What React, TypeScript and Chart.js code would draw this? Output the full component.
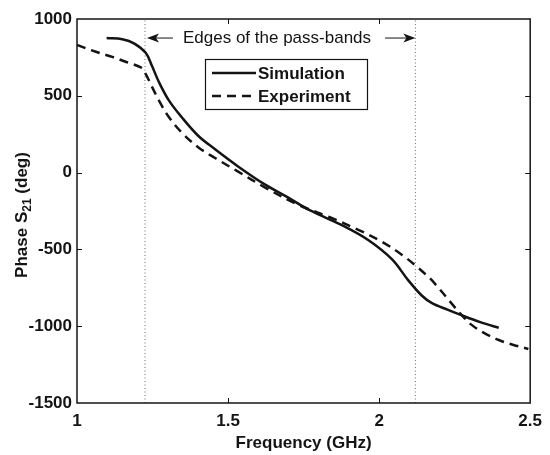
import React, { useEffect, useRef } from "react";
import { Chart, registerables } from "chart.js";

Chart.register(...registerables);

// ---- data ----
const simFreq = [1.098, 1.15, 1.19, 1.228, 1.248, 1.271, 1.304, 1.346, 1.401, 1.457, 1.532, 1.62, 1.695, 1.77, 1.88, 1.965, 2.043, 2.096, 2.141, 2.175, 2.226, 2.281, 2.337, 2.396];
const simPhase = [876, 868, 840, 778, 695, 590, 470, 362, 240, 152, 42, -75, -158, -245, -345, -440, -565, -700, -800, -850, -892, -935, -975, -1010];

const expFreq = [1.0, 1.065, 1.117, 1.163, 1.215, 1.228, 1.248, 1.271, 1.304, 1.346, 1.401, 1.457, 1.532, 1.62, 1.727, 1.835, 1.933, 2.011, 2.076, 2.118, 2.167, 2.19, 2.239, 2.272, 2.304, 2.347, 2.396, 2.445, 2.494];
const expPhase = [831, 785, 753, 720, 681, 640, 560, 470, 362, 262, 165, 95, 8, -94, -205, -289, -374, -452, -536, -601, -686, -735, -850, -925, -988, -1044, -1090, -1122, -1148];

const passBandEdges = [1.225, 2.12];
const xTicks = [1, 1.5, 2, 2.5];
const yTicks = [-1500, -1000, -500, 0, 500, 1000];
const annotationText = "Edges of the pass-bands";
const annotationAnchor = { x: 1.662, y: 876 };

const FONT = '"Liberation Sans", Arial, Helvetica, sans-serif';
const INK = "#141414";

const decorPlugin = {
  id: "decor",
  afterDraw(chart: any) {
    const { ctx, chartArea: a, scales } = chart;
    const xs = scales.x;
    const ys = scales.y;
    ctx.save();
    // box
    ctx.strokeStyle = INK;
    ctx.lineWidth = 1.5;
    ctx.strokeRect(a.left, a.top, a.right - a.left, a.bottom - a.top);
    // inward ticks
    ctx.lineWidth = 1;
    const tl = 5;
    xTicks.slice(1, -1).forEach((v) => {
      const p = Math.round(xs.getPixelForValue(v)) + 0.5;
      ctx.beginPath();
      ctx.moveTo(p, a.bottom);
      ctx.lineTo(p, a.bottom - tl);
      ctx.moveTo(p, a.top);
      ctx.lineTo(p, a.top + tl);
      ctx.stroke();
    });
    yTicks.slice(1, -1).forEach((v) => {
      const p = Math.round(ys.getPixelForValue(v)) + 0.5;
      ctx.beginPath();
      ctx.moveTo(a.left, p);
      ctx.lineTo(a.left + tl, p);
      ctx.moveTo(a.right, p);
      ctx.lineTo(a.right - tl, p);
      ctx.stroke();
    });

    // x title
    ctx.fillStyle = INK;
    ctx.font = `bold 17px ${FONT}`;
    ctx.textAlign = "center";
    ctx.textBaseline = "middle";
    ctx.fillText("Frequency (GHz)", (a.left + a.right) / 2, 443);

    // y title with subscript
    ctx.save();
    ctx.translate(22, (a.top + a.bottom) / 2 + 4);
    ctx.rotate(-Math.PI / 2);
    ctx.textAlign = "left";
    ctx.textBaseline = "middle";
    const p1 = "Phase S";
    const p2 = "21";
    const p3 = " (deg)";
    ctx.font = `bold 17px ${FONT}`;
    const w1 = ctx.measureText(p1).width;
    const w3 = ctx.measureText(p3).width;
    ctx.font = `bold 12px ${FONT}`;
    const w2 = ctx.measureText(p2).width;
    const total = w1 + w2 + w3;
    let cx = -total / 2;
    ctx.font = `bold 17px ${FONT}`;
    ctx.fillText(p1, cx, 0);
    cx += w1;
    ctx.font = `bold 12px ${FONT}`;
    ctx.fillText(p2, cx, 6);
    cx += w2;
    ctx.font = `bold 17px ${FONT}`;
    ctx.fillText(p3, cx, 0);
    ctx.restore();

    // annotation
    const ty = ys.getPixelForValue(annotationAnchor.y);
    const tx = xs.getPixelForValue(annotationAnchor.x);
    ctx.font = `17px ${FONT}`;
    ctx.textAlign = "center";
    ctx.textBaseline = "middle";
    ctx.fillText(annotationText, tx, ty);
    const tw = ctx.measureText(annotationText).width;
    const e1 = xs.getPixelForValue(passBandEdges[0]) + 2;
    const e2 = xs.getPixelForValue(passBandEdges[1]);
    const arrow = (from: number, to: number) => {
      const dir = Math.sign(to - from);
      ctx.beginPath();
      ctx.moveTo(from, ty);
      ctx.lineTo(to - dir * 8, ty);
      ctx.lineWidth = 1;
      ctx.stroke();
      ctx.beginPath();
      ctx.moveTo(to, ty);
      ctx.lineTo(to - dir * 12, ty - 4.5);
      ctx.lineTo(to - dir * 9, ty);
      ctx.lineTo(to - dir * 12, ty + 4.5);
      ctx.closePath();
      ctx.fill();
    };
    arrow(tx - tw / 2 - 10, e1);
    arrow(tx + tw / 2 + 14, e2);

    // legend
    const lx = 205, ly = 59, lw = 162, lh = 50;
    ctx.fillStyle = "#fff";
    ctx.fillRect(lx, ly, lw, lh);
    ctx.strokeStyle = INK;
    ctx.lineWidth = 1.2;
    ctx.strokeRect(lx + 0.5, ly + 0.5, lw, lh);
    const items = chart.data.datasets.filter((d: any) => d.label);
    items.forEach((d: any, i: number) => {
      const y = ly + 14 + i * 23;
      ctx.save();
      ctx.strokeStyle = d.borderColor;
      ctx.lineWidth = d.borderWidth;
      ctx.setLineDash(d.borderDash || []);
      ctx.beginPath();
      ctx.moveTo(lx + 7, y);
      ctx.lineTo(lx + 51, y);
      ctx.stroke();
      ctx.restore();
      ctx.fillStyle = INK;
      ctx.font = `bold 17px ${FONT}`;
      ctx.textAlign = "left";
      ctx.textBaseline = "middle";
      ctx.fillText(d.label, lx + 53, y + 1);
    });
    ctx.restore();
  },
};

export default function App() {
  const ref = useRef<HTMLCanvasElement | null>(null);
  useEffect(() => {
    document.body.style.margin = "0";
    const canvas = ref.current;
    if (!canvas) return;
    const edgeSets = passBandEdges.map((e) => ({
      label: "",
      data: [
        { x: e, y: yTicks[0] },
        { x: e, y: yTicks[yTicks.length - 1] },
      ],
      borderColor: "#6e6e6e",
      borderWidth: 1,
      borderDash: [1, 2.5],
      pointRadius: 0,
      tension: 0,
      order: 3,
    }));
    const chart = new Chart(canvas, {
      type: "line",
      data: {
        datasets: [
          {
            label: "Simulation",
            data: simFreq.map((x, i) => ({ x, y: simPhase[i] })),
            borderColor: INK,
            borderWidth: 2.5,
            pointRadius: 0,
            tension: 0.35,
            order: 1,
          },
          {
            label: "Experiment",
            data: expFreq.map((x, i) => ({ x, y: expPhase[i] })),
            borderColor: INK,
            borderWidth: 2.5,
            borderDash: [9, 6],
            pointRadius: 0,
            tension: 0.35,
            order: 2,
          },
          ...edgeSets,
        ] as any,
      },
      options: {
        animation: false,
        responsive: false,
        devicePixelRatio: 1,
        layout: { padding: { top: 19, right: 13, bottom: 0, left: 0 } },
        plugins: {
          legend: { display: false },
          tooltip: { enabled: false },
        },
        scales: {
          x: {
            type: "linear",
            min: xTicks[0],
            max: xTicks[xTicks.length - 1],
            afterBuildTicks: (s: any) => {
              s.ticks = xTicks.map((v) => ({ value: v }));
            },
            afterFit: (s: any) => {
              s.height = 52;
            },
            grid: { display: false, drawTicks: false },
            border: { display: false },
            ticks: {
              font: { family: FONT, size: 17, weight: "bold" },
              color: INK,
              padding: 8,
              maxRotation: 0,
              autoSkip: false,
              callback: (v: any) => String(v),
            },
          },
          y: {
            type: "linear",
            min: yTicks[0],
            max: yTicks[yTicks.length - 1],
            afterBuildTicks: (s: any) => {
              s.ticks = yTicks.map((v) => ({ value: v }));
            },
            afterFit: (s: any) => {
              s.width = 77;
            },
            grid: { display: false, drawTicks: false },
            border: { display: false },
            ticks: {
              font: { family: FONT, size: 17, weight: "bold" },
              color: INK,
              padding: 5,
              autoSkip: false,
              callback: (v: any) => String(v),
            },
          },
        },
      } as any,
      plugins: [decorPlugin],
    });
    return () => chart.destroy();
  }, []);
  return (
    <div style={{ width: 550, height: 455, background: "#fff" }}>
      <canvas ref={ref} width={550} height={455} style={{ display: "block" }} />
    </div>
  );
}
